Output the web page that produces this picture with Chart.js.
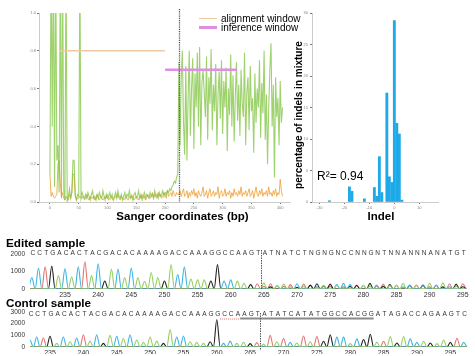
<!DOCTYPE html>
<html>
<head>
<meta charset="utf-8">
<script src="https://cdn.jsdelivr.net/npm/chart.js@4.4.1/dist/chart.umd.min.js"></script>
<style>
    html, body { margin: 0; padding: 0; background: #fff; }
    body { width: 475px; height: 356px; position: relative; overflow: hidden;
           font-family: "Liberation Sans", Arial, sans-serif; color: #000; }
    canvas { position: absolute; }
    .lbl { position: absolute; white-space: nowrap; line-height: 1; }
    .bold { font-weight: bold; }
    .swatch { position: absolute; }
</style>
</head>
<body>
<canvas id="discordChart" width="300" height="215" style="left:0;top:0"></canvas>
<canvas id="indelChart" width="175" height="215" style="left:300px;top:0"></canvas>
<canvas id="editedChart" width="475" height="56" style="left:0;top:245px"></canvas>
<canvas id="controlChart" width="475" height="53" style="left:0;top:303px"></canvas>

<div class="swatch" style="left:199px;top:17.5px;width:18px;height:1.5px;background:#f0c9a4"></div>
<div class="swatch" style="left:199px;top:26px;width:18px;height:2.5px;background:#e08ee4"></div>
<div class="lbl" style="left:221px;top:18.5px;font-size:10px;transform:translateY(-50%)">alignment window</div>
<div class="lbl" style="left:221px;top:27.5px;font-size:10px;transform:translateY(-50%)">inference window</div>

<div class="lbl bold" style="left:182.5px;top:217px;font-size:11.5px;transform:translate(-50%,-50%)">Sanger coordinates (bp)</div>
<div class="lbl bold" style="left:381px;top:217px;font-size:11.5px;transform:translate(-50%,-50%)">Indel</div>
<div class="lbl bold" style="left:298.5px;top:115px;font-size:10px;transform:translate(-50%,-50%) rotate(-90deg)">percentage of indels in mixture</div>
<div class="lbl" style="left:317px;top:176px;font-size:12px;transform:translateY(-50%)">R²= 0.94</div>

<div class="lbl bold" style="left:6px;top:243px;font-size:11.7px;transform:translateY(-50%)">Edited sample</div>
<div class="lbl bold" style="left:6px;top:303px;font-size:11.7px;transform:translateY(-50%)">Control sample</div>

<script>
// ── Discordance data (Sanger position every 2 bp, starting at 0) ──
const sangerStart = 0;
const sangerStep = 2;

const editedDiscord = [
    0.15, 1.3, 0.4, 1.3, 0.08, 1.3, 0.22, 0.3, 0.05, 1.3,          // 0-18
    0.02, 1.3, 0.06, 0.01, 1.3, 0.0, 0.03, 0.07, 0.02, 0.05,       // 20-38
    0.22, 0.22, 0.04, 0.01, 0.04, 0.03, 1.3, 0.02, 0.05, 0.03,     // 40-58
    0.02, 0.04, 0.02, 0.05, 0.03, 0.01, 0.04, 0.06, 0.02, 0.03,    // 60-78
    0.01, 0.04, 0.02, 0.05, 0.03, 0.02, 0.06, 0.03, 0.01, 0.04,    // 80-98
    0.02, 0.03, 0.05, 0.02, 0.04, 0.01, 0.03, 0.05, 0.02, 0.06,    // 100-118
    0.03, 0.02, 0.04, 0.01, 0.03, 0.05, 0.02, 0.04, 0.03, 0.06,    // 120-138
    0.02, 0.03, 0.01, 0.04, 0.05, 0.02, 0.03, 0.06, 0.02, 0.04,    // 140-158
    0.01, 0.03, 0.05, 0.02, 0.04, 0.03, 0.02, 0.05, 0.03, 0.04,    // 160-178
    0.02, 0.06, 0.03, 0.04, 0.02, 0.05, 0.03, 0.04, 0.06, 0.03,    // 180-198
    0.05, 0.04, 0.06, 0.05, 0.07, 0.06, 0.08, 0.09, 0.11, 0.10,    // 200-218
    0.13, 0.15, 0.74, 0.3, 0.65, 0.8, 0.42, 0.25, 0.72, 0.22,      // 220-238
    0.55, 0.8, 0.35, 0.6, 0.76, 0.28, 0.68, 0.5, 0.79, 0.4,        // 240-258
    0.82, 0.3, 0.63, 0.7, 0.58, 0.45, 0.77, 0.33, 0.66, 0.52,      // 260-278
    0.81, 0.38, 0.62, 0.48, 0.73, 0.3, 0.57, 0.69, 0.44, 0.75,     // 280-298
    0.36, 0.64, 0.5, 0.71, 0.27, 0.6, 0.46, 0.78, 0.4, 0.67,       // 300-318
    0.32, 0.56, 0.74, 0.43, 0.62, 0.35, 0.7, 0.52, 0.45, 0.79,     // 320-338
    0.3, 0.58, 0.66, 0.38, 0.72, 0.48, 0.55, 0.26, 0.68, 0.42,     // 340-358
    0.6, 0.5, 0.75, 0.34, 0.63, 0.47, 0.8, 0.33, 0.57, 0.2,        // 360-378
    0.5, 0.7, 0.84, 0.4, 0.62, 0.13, 0.66, 0.45, 0.55, 0.3,        // 380-398
    0.64, 0.42, 0.5                                                // 400-404
];

const controlDiscord = [
    0.15, 0.03, 0.05, 0.03, 0.02, 0.03, 0.04, 0.2, 0.22, 0.1,      // 0-18
    0.03, 0.05, 0.02, 0.01, 0.03, 0.02, 0.01, 0.04, 0.02, 0.05,    // 20-38
    0.15, 0.14, 0.03, 0.01, 0.02, 0.02, 0.03, 0.02, 0.02, 0.03,    // 40-58
    0.01, 0.02, 0.04, 0.02, 0.01, 0.03, 0.02, 0.02, 0.03, 0.01,    // 60-78
    0.02, 0.04, 0.02, 0.01, 0.03, 0.02, 0.01, 0.02, 0.03, 0.02,    // 80-98
    0.04, 0.01, 0.02, 0.03, 0.02, 0.01, 0.02, 0.03, 0.02, 0.04,    // 100-118
    0.02, 0.01, 0.03, 0.02, 0.01, 0.02, 0.03, 0.02, 0.01, 0.03,    // 120-138
    0.02, 0.04, 0.02, 0.01, 0.02, 0.03, 0.02, 0.01, 0.03, 0.02,    // 140-158
    0.04, 0.02, 0.03, 0.01, 0.02, 0.04, 0.03, 0.02, 0.03, 0.05,    // 160-178
    0.02, 0.04, 0.03, 0.02, 0.05, 0.03, 0.04, 0.02, 0.03, 0.05,    // 180-198
    0.04, 0.02, 0.06, 0.03, 0.04, 0.05, 0.03, 0.06, 0.04, 0.03,    // 200-218
    0.05, 0.04, 0.04, 0.06, 0.03, 0.05, 0.07, 0.03, 0.04, 0.06,    // 220-238
    0.02, 0.05, 0.03, 0.06, 0.04, 0.07, 0.03, 0.05, 0.02, 0.06,    // 240-258
    0.04, 0.03, 0.05, 0.08, 0.03, 0.04, 0.06, 0.02, 0.05, 0.07,    // 260-278
    0.03, 0.04, 0.06, 0.03, 0.05, 0.04, 0.08, 0.02, 0.05, 0.06,    // 280-298
    0.03, 0.04, 0.07, 0.03, 0.05, 0.04, 0.06, 0.02, 0.05, 0.03,    // 300-318
    0.07, 0.04, 0.05, 0.03, 0.06, 0.04, 0.08, 0.03, 0.05, 0.04,    // 320-338
    0.06, 0.03, 0.05, 0.07, 0.03, 0.04, 0.06, 0.02, 0.05, 0.08,    // 340-358
    0.04, 0.03, 0.06, 0.04, 0.07, 0.03, 0.05, 0.04, 0.06, 0.03,    // 360-378
    0.08, 0.04, 0.05, 0.03, 0.06, 0.04, 0.07, 0.03, 0.05, 0.04,    // 380-398
    0.12, 0.06, 0.03                                               // 400-404
];

const alignmentWindow = [17, 200];
const alignmentLevel = 0.8;
const inferenceWindow = [200, 325];
const inferenceLevel = 0.7;
const cutSite = 224.5;
const discordTicks = [0, 0.2, 0.4, 0.6, 0.8, 1.0];

// ── Indel distribution ──
const indelSizes    = [-26, -18, -17, -12, -8, -7, -6, -5, -3, -2, -1, 0, 1, 2, 3];
const indelPercents = [0.2, 2.4, 1.7, 0.5, 2.3, 0.9, 7.2, 1.5, 17.3, 4.0, 3.1, 28.8, 12.5, 10.8, 0.3];

// ── Chromatograms: base calls and peak heights per channel ──
const chromTicks = [235, 240, 245, 250, 255, 260, 265, 270, 275, 280, 285, 290, 295];

const editedBases  = 'CCTGACACTACGACACAAAAGACCAAAGGCCAAGTATNATCTNGNGNCCNNGNTNNANNNANATGT';
const editedFirstPos = 230;
const editedCut = 264.5;

const editedA = [
    0, 0, 0, 0, 760, 0, 700, 0, 0, 760, 0,
    0, 1130, 0, 650, 0, 650, 430, 940, 650, 0, 1390,
    0, 0, 570, 520, 520, 0, 0, 0, 0, 450, 330,
    0, 0, 350, 0, 200, 280, 120, 0, 140, 0, 0,
    200, 0, 200, 0, 0, 0, 200, 150, 0, 0, 200,
    220, 320, 0, 200, 0, 330, 0, 350, 0, 150, 0
];
const editedC = [
    650, 1200, 0, 0, 0, 1170, 0, 1260, 0, 0, 1440,
    0, 0, 1130, 0, 1200, 0, 0, 0, 0, 0, 0,
    830, 1260, 0, 0, 0, 0, 0, 460, 520, 0, 0,
    0, 0, 0, 0, 180, 0, 0, 300, 0, 0, 120,
    0, 0, 250, 320, 250, 0, 200, 0, 180, 0, 0,
    0, 120, 230, 0, 200, 0, 230, 0, 130, 0, 0
];
const editedG = [
    0, 0, 0, 1310, 0, 0, 0, 0, 0, 0, 0,
    460, 0, 0, 0, 0, 0, 0, 0, 0, 460, 0,
    0, 0, 0, 0, 0, 460, 1390, 0, 0, 0, 0,
    250, 0, 0, 120, 0, 0, 0, 100, 0, 220, 300,
    180, 280, 0, 0, 150, 200, 0, 320, 0, 150, 250,
    0, 0, 200, 0, 220, 0, 0, 120, 0, 280, 130
];
const editedT = [
    0, 0, 1260, 0, 0, 0, 0, 0, 1570, 0, 0,
    0, 0, 0, 0, 0, 0, 0, 0, 0, 0, 0,
    0, 0, 0, 0, 0, 0, 0, 0, 0, 0, 0,
    0, 300, 150, 300, 0, 150, 250, 0, 280, 200, 0,
    0, 150, 0, 120, 0, 220, 0, 0, 230, 280, 0,
    200, 0, 0, 220, 0, 120, 210, 0, 300, 0, 300
];

const controlBases = 'CCTGACACTACGACACAAAAGACCAAAGGCCAAGTATATCATATGGCCACGGATAGACCAGAAGTC';
const controlFirstPos = 232;
const controlCut = 266.5;
const guideBases = [33, 52];   // underlined protospacer (1-based base index)
const pamBases = [30, 32];     // dotted PAM

const controlA = [
    0, 0, 0, 0, 320, 0, 460, 0, 0, 510, 0,
    0, 1000, 0, 730, 0, 600, 400, 865, 510, 0, 1490,
    0, 0, 460, 400, 320, 0, 0, 0, 0, 320, 420,
    0, 0, 250, 0, 450, 0, 0, 350, 0, 450, 0,
    0, 0, 0, 0, 300, 0, 0, 0, 420, 0, 900,
    0, 900, 0, 0, 500, 0, 300, 600, 0, 0, 0
];
const controlC = [
    600, 865, 0, 0, 0, 865, 0, 780, 0, 0, 1050,
    0, 0, 920, 0, 1050, 0, 0, 0, 0, 0, 0,
    865, 950, 0, 0, 0, 0, 0, 320, 510, 0, 0,
    0, 0, 0, 0, 0, 0, 400, 0, 0, 0, 0,
    0, 0, 850, 850, 0, 700, 0, 0, 0, 0, 0,
    0, 0, 700, 400, 0, 0, 0, 0, 0, 0, 400
];
const controlG = [
    0, 0, 0, 920, 0, 0, 0, 0, 0, 0, 0,
    320, 0, 0, 0, 0, 0, 0, 0, 0, 320, 0,
    0, 0, 0, 0, 0, 460, 2350, 0, 0, 0, 0,
    300, 0, 0, 0, 0, 0, 0, 0, 0, 0, 0,
    500, 1050, 0, 0, 0, 0, 650, 1100, 0, 0, 0,
    350, 0, 0, 0, 0, 350, 0, 0, 400, 0, 0
];
const controlT = [
    0, 0, 780, 0, 0, 0, 0, 0, 1050, 0, 0,
    0, 0, 0, 0, 0, 0, 0, 0, 0, 0, 0,
    0, 0, 0, 0, 0, 0, 0, 0, 0, 0, 0,
    0, 380, 0, 1000, 0, 730, 0, 0, 950, 0, 900,
    0, 0, 0, 0, 0, 0, 0, 0, 0, 500, 0,
    0, 0, 0, 0, 0, 0, 0, 0, 0, 750, 0
];

const channelColors = { A: '#97cf5f', C: '#3cb4e5', G: '#222222', T: '#e27373' };

// ── Shared defaults ──
Chart.defaults.font.family = '"Liberation Sans", Arial, sans-serif';
Chart.defaults.animation = false;
Chart.defaults.plugins.legend.display = false;
Chart.defaults.plugins.tooltip.enabled = false;

const tinyTicks = { font: { size: 4 }, color: '#888', padding: 1, maxRotation: 0, autoSkip: false };
const tinyGrid = { drawOnChartArea: false, tickLength: 2, color: '#777' };

// ── Discordance plot ─────────────────────────────
const toPoints = arr => arr.map((v, i) => ({ x: sangerStart + i * sangerStep, y: v }));

const cutLinePlugin = {
    id: 'cutLine',
    afterDatasetsDraw(chart, args, opts) {
        if (opts.value == null) return;
        const { ctx, chartArea, scales: { x } } = chart;
        const px = Math.round(x.getPixelForValue(opts.value)) + 0.5;
        ctx.save();
        ctx.strokeStyle = opts.color || '#555';
        ctx.lineWidth = opts.width || 1;
        ctx.setLineDash(opts.dash || [1.5, 1]);
        ctx.beginPath();
        ctx.moveTo(px, chartArea.top + (opts.top || 0));
        ctx.lineTo(px, chartArea.bottom + (opts.bottom || 0));
        ctx.stroke();
        ctx.restore();
    }
};

new Chart(document.getElementById('discordChart'), {
    type: 'line',
    data: {
        datasets: [
            {
                label: 'alignment window',
                data: alignmentWindow.map(v => ({ x: v, y: alignmentLevel })),
                borderColor: '#f0c9a4', borderWidth: 1.5, pointRadius: 0, order: 0
            },
            {
                label: 'inference window',
                data: inferenceWindow.map(v => ({ x: v, y: inferenceLevel })),
                borderColor: '#e08ee4', borderWidth: 2.5, pointRadius: 0, order: 0
            },
            {
                label: 'edited',
                data: toPoints(editedDiscord),
                borderColor: 'rgba(125,195,60,0.75)', borderWidth: 1.1, pointRadius: 0, order: 1
            },
            {
                label: 'control',
                data: toPoints(controlDiscord),
                borderColor: 'rgba(240,165,60,0.85)', borderWidth: 1, pointRadius: 0, order: 2
            }
        ]
    },
    options: {
        responsive: false,
        layout: { padding: { top: 13, right: 10, left: 0, bottom: 0 } },
        scales: {
            x: {
                type: 'linear', min: -19, max: 417,
                afterFit: s => { s.height = 13; },
                border: { color: '#ccc' },
                grid: tinyGrid,
                ticks: { ...tinyTicks, stepSize: 50, includeBounds: false }
            },
            y: {
                min: 0, max: 1,
                afterFit: s => { s.width = 39; },
                afterBuildTicks: s => { s.ticks = discordTicks.map(v => ({ value: v })); },
                border: { color: '#ccc' },
                grid: tinyGrid,
                ticks: { ...tinyTicks, padding: 1, callback: v => v.toFixed(1) }
            }
        },
        plugins: { cutLine: { value: cutSite, top: -4, color: '#555', width: 1.3, dash: [1.2, 1] } }
    },
    plugins: [cutLinePlugin]
});

// ── Indel histogram ─────────────────────────────
new Chart(document.getElementById('indelChart'), {
    type: 'bar',
    data: {
        datasets: [{
            data: indelSizes.map((s, i) => ({ x: s, y: indelPercents[i] })),
            backgroundColor: '#1eaae8',
            barThickness: 2.2
        }]
    },
    options: {
        responsive: false,
        layout: { padding: { top: 13, right: 37, left: 0, bottom: 0 } },
        scales: {
            x: {
                type: 'linear', min: -33, max: 17.5, offset: false,
                afterFit: s => { s.height = 13; },
                border: { color: '#ccc', dash: [2, 2] },
                grid: { ...tinyGrid, offset: false },
                ticks: { ...tinyTicks, stepSize: 10, includeBounds: false }
            },
            y: {
                min: 0, max: 30,
                afterFit: s => { s.width = 12; },
                border: { color: '#ccc' },
                grid: tinyGrid,
                ticks: { ...tinyTicks, stepSize: 5, padding: 2 }
            }
        }
    }
});

// ── Chromatograms ───────────────────────────────
function tracePoints(heights, firstPos) {
    const pts = [];
    heights.forEach((h, i) => {
        const p = firstPos + i;
        pts.push({ x: p - 0.5, y: 0 }, { x: p, y: h });
    });
    pts.push({ x: firstPos + heights.length - 0.5, y: 0 });
    return pts;
}

const seqRowPlugin = {
    id: 'seqRow',
    afterDraw(chart, args, o) {
        const { ctx, scales: { x } } = chart;
        const posOf = idx => o.firstPos + idx - 1;   // 1-based base index -> position
        ctx.save();
        // base letters
        ctx.font = '6.5px "Liberation Sans", Arial, sans-serif';
        ctx.fillStyle = '#333';
        ctx.textAlign = 'center';
        ctx.textBaseline = 'middle';
        o.bases.split('').forEach((b, i) => {
            ctx.fillText(b, x.getPixelForValue(o.firstPos + i) + o.letterShift, o.letterY);
        });
        // guide underline + PAM
        if (o.guide) {
            ctx.strokeStyle = '#8a8a8a';
            ctx.lineWidth = 2;
            ctx.beginPath();
            ctx.moveTo(x.getPixelForValue(posOf(o.guide[0]) - 0.5), o.guideY);
            ctx.lineTo(x.getPixelForValue(posOf(o.guide[1]) + 0.5), o.guideY);
            ctx.stroke();
            ctx.strokeStyle = '#e06a6a';
            ctx.lineWidth = 1;
            ctx.setLineDash([1, 1]);
            ctx.beginPath();
            ctx.moveTo(x.getPixelForValue(posOf(o.pam[0]) - 0.5), o.guideY + 0.5);
            ctx.lineTo(x.getPixelForValue(posOf(o.pam[1]) + 0.5), o.guideY + 0.5);
            ctx.stroke();
        }
        // cut site
        const cx = Math.round(x.getPixelForValue(o.cut)) + 0.5;
        ctx.strokeStyle = '#555';
        ctx.lineWidth = 1;
        ctx.setLineDash([1.5, 1]);
        ctx.beginPath();
        ctx.moveTo(cx, o.cutTop);
        ctx.lineTo(cx, o.cutBottom);
        ctx.stroke();
        ctx.restore();
    }
};

function renderChromatogram(canvasId, cfg) {
    const channels = { A: cfg.A, C: cfg.C, G: cfg.G, T: cfg.T };
    return new Chart(document.getElementById(canvasId), {
        type: 'line',
        data: {
            datasets: Object.keys(channels).map(b => ({
                label: b,
                data: tracePoints(channels[b], cfg.firstPos),
                borderColor: channelColors[b],
                borderWidth: 1.1,
                pointRadius: 0,
                cubicInterpolationMode: 'monotone'
            }))
        },
        options: {
            responsive: false,
            layout: { padding: { top: cfg.padTop, right: 4, left: 0, bottom: 0 } },
            scales: {
                x: {
                    type: 'linear', min: cfg.xMin, max: cfg.xMax,
                    afterFit: s => { s.height = cfg.xHeight; },
                    afterBuildTicks: s => { s.ticks = chromTicks.map(v => ({ value: v })); },
                    border: { display: false },
                    grid: { display: false, drawTicks: false, tickLength: 0 },
                    ticks: {
                        autoSkip: false, maxRotation: 0, padding: 2, color: '#333', font: { size: 7 }
                    }
                },
                y: {
                    min: 0, max: cfg.yMax,
                    afterFit: s => { s.width = 30; },
                    border: { display: false },
                    grid: { display: false, drawTicks: false, tickLength: 0 },
                    ticks: { stepSize: 1000, padding: 5, color: '#333', font: { size: 6.5 }, callback: v => String(v) }
                }
            },
            plugins: {
                seqRow: {
                    bases: cfg.bases, firstPos: cfg.firstPos, letterY: cfg.letterY, letterShift: 1,
                    cut: cfg.cut, cutTop: cfg.cutTop, cutBottom: cfg.cutBottom,
                    guide: cfg.guide, pam: cfg.pam, guideY: cfg.guideY
                }
            }
        },
        plugins: [seqRowPlugin]
    });
}

renderChromatogram('editedChart', {
    A: editedA, C: editedC, G: editedG, T: editedT,
    bases: editedBases, firstPos: editedFirstPos, cut: editedCut,
    xMin: 229.72, xMax: 296.24, yMax: 2000,
    padTop: 8, xHeight: 12, letterY: 8.5, cutTop: 5, cutBottom: 45
});

renderChromatogram('controlChart', {
    A: controlA, C: controlC, G: controlG, T: controlT,
    bases: controlBases, firstPos: controlFirstPos, cut: controlCut,
    xMin: 232, xMax: 298.1, yMax: 3000,
    padTop: 8.8, xHeight: 7, letterY: 11, cutTop: 10, cutBottom: 47,
    guide: guideBases, pam: pamBases, guideY: 15.5
});
</script>
</body>
</html>
